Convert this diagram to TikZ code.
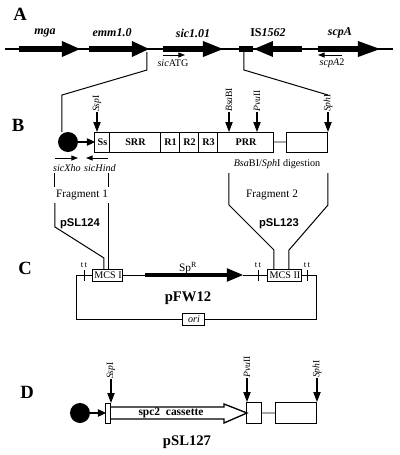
\documentclass[tikz,border=0pt]{standalone}
\usepackage{fontspec}
\setmainfont{Liberation Serif}
\newfontfamily\helv{Liberation Sans}
\usetikzlibrary{arrows.meta}
% gene arrow: body x1..x2, head x2..x3, y, body half, head half
\newcommand\genearr[6]{\fill (#1,#4-#5) rectangle (#2,#4+#5); \fill (#2,#4-#6) -- (#3,#4) -- (#2,#4+#6) -- cycle;}
% restriction site: x, tip y, arrow length, label, name
\newcommand\rsite[5]{\node[slbl, rotate=90, anchor=west] (#5) at (#1,#2-#3) {#4}; \draw[sitearr] (#1,#2-#3-1) -- (#1,#2);}
\begin{document}
\begin{tikzpicture}[x=0.75pt,y=-0.75pt,
  line width=0.75pt,
  sec/.style={inner sep=0pt, font=\fontsize{14}{14}\selectfont\bfseries},
  glbl/.style={inner sep=0pt, font=\fontsize{9}{10}\selectfont\bfseries\itshape},
  plbl/.style={inner sep=0pt, font=\fontsize{7.6}{9}\selectfont},
  slbl/.style={inner sep=0.5pt, font=\fontsize{7.2}{8}\selectfont},
  blbl/.style={inner sep=0pt, font=\fontsize{7.6}{9}\selectfont\bfseries},
  frag/.style={inner sep=0pt, font=\fontsize{8.5}{10}\selectfont},
  hlbl/.style={inner sep=0pt, font=\helv\fontsize{8.4}{10}\selectfont\bfseries},
  big/.style={inner sep=0pt, font=\fontsize{11}{12}\selectfont\bfseries},
  tlbl/.style={inner sep=0pt, font=\fontsize{6.5}{7}\selectfont},
  sarr/.style={line width=0.7pt, -{Triangle[length=5pt,width=3.8pt]}},
  sitearr/.style={line width=0.8pt, -{Triangle[length=7.5pt,width=5.5pt]}},
  carr/.style={line width=0.9pt, -{Triangle[length=6pt,width=5.5pt]}},
  conn/.style={gray!70, line width=1.1pt}]
\useasboundingbox (0,0) rectangle (400,455);

% ---------- A ----------
\node[sec] (A) at (20,14) {A};
\draw[line width=0.8pt] (5,49) -- (393,49);
\genearr{19}{62}{80}{49}{2.8}{8}
\genearr{89}{132}{149}{49}{2.8}{8}
\genearr{163}{203}{223}{49}{2.8}{8}
\fill (239,46.2) rectangle (253,51.8);
\genearr{302}{273}{254}{49}{2.8}{8}
\genearr{318}{358}{380}{49}{2.8}{8}
\node[glbl] (mga) at (45,33) {mga};
\node[glbl] (emm) at (112,33) {emm1.0};
\node[glbl] (sic) at (193,33) {sic1.01};
\node[glbl] (is) at (268,33) {{\upshape IS}1562};
\node[glbl] (scpA) at (340,33) {scpA};
\draw[sarr] (163,55) -- (185,55);
\node[plbl] (sicATG) at (173,63) {\textit{sic}ATG};
\draw[sarr] (342,55) -- (318,55);
\node[plbl] (scpA2) at (332,63) {\textit{scpA}2};
\draw (147,52) -- (147,70) -- (62,95) -- (62,132);
\draw (244,52) -- (244,70) -- (328,95);

% ---------- B ----------
\node[sec] (B) at (18,125) {B};
\fill (68,142) circle (7.5pt);
\draw[carr] (78,142) -- (95,142);
\draw (95,132) rectangle (274,152);
\foreach \x in {110,161,180,199,218} \draw (\x,132) -- (\x,152);
\node[blbl] (ss) at (102.5,142) {Ss};
\node[blbl] (srr) at (135.5,142) {SRR};
\node[blbl] (r1) at (170.5,142) {R1};
\node[blbl] (r2) at (189.5,142) {R2};
\node[blbl] (r3) at (208.5,142) {R3};
\node[blbl] (prr) at (246,142) {PRR};
\draw[conn] (274,142) -- (287,142);
\draw (287,132) rectangle (328,152);
\rsite{97}{132}{19}{\textit{Ssp}I}{sspB}
\rsite{229}{132}{19}{\textit{Bsa}BI}{bsaB}
\rsite{257}{132}{19}{\textit{Pvu}II}{pvuB}
\rsite{328}{132}{19}{\textit{Sph}I}{sphB}
\draw[sarr] (55,158) -- (78,158);
\node[plbl] (xho) at (67,168) {\textit{sicXho}};
\draw[sarr] (108,158) -- (86,158);
\node[plbl] (hind) at (100,168) {\textit{sicHind}};
\node[plbl] (dig) at (277,164) {\textit{Bsa}BI/\textit{Sph}I digestion};

% fragments
\draw (55,173) -- (55,187);
\draw (109,173) -- (109,187);
\node[frag] (f1) at (82,195) {Fragment 1};
\draw (55,203) -- (55,227) -- (104,258) -- (104,269);
\draw (109,203) -- (109,269);
\node[hlbl] (p124) at (80,224) {pSL124};
\draw (229,173) -- (229,205) -- (274,250) -- (274,269);
\draw (328,173) -- (328,205) -- (289,250) -- (289,269);
\node[frag] (f2) at (272,195) {Fragment 2};
\node[hlbl] (p123) at (279,224) {pSL123};

% ---------- C ----------
\node[sec] (C) at (25,268) {C};
\draw (93,275) -- (77,275) -- (77,319) -- (183,319);
\draw (205,319) -- (317,319) -- (317,275) -- (302,275);
\draw (123,275) -- (145,275);
\draw (243,275) -- (268,275);
\draw (93,269) rectangle (123,281);
\node[plbl] (mcs1) at (108,275) {MCS I};
\draw (268,269) rectangle (302,281);
\node[plbl] (mcs2) at (285,275) {MCS II};
\genearr{145}{227}{243}{275}{2.4}{6.8}
\node[frag] (spr) at (188,268) {Sp\textsuperscript{R}};
\foreach \x/\n in {85/t1,259/t2,308/t3} {
  \draw (\x,270) -- (\x,281);
  \node[tlbl] (\n) at (\x-1,265) {t\,t};
}
\node[big] (pfw) at (188,298) {pFW12};
\draw (183,313) rectangle (205,325);
\node[plbl] (ori) at (194,319) {\textit{ori}};

% ---------- D ----------
\node[sec] (D) at (27,392) {D};
\fill (80,413) circle (7.5pt);
\draw[carr] (90,413) -- (106,413);
\draw (106,403) rectangle (111,423);
\draw[line width=1pt] (111,407) -- (224,407) -- (224,404) -- (247,413) -- (224,423) -- (224,419) -- (111,419);
\node[blbl, font=\fontsize{8.6}{10}\selectfont\bfseries] (spc) at (171,413) {spc2\ \ cassette};
\draw (247,402) rectangle (262,423);
\draw[conn] (262,413) -- (276,413);
\draw (276,402) rectangle (317,423);
\rsite{111}{403}{23}{\textit{Ssp}I}{sspD}
\rsite{247}{402}{23}{\textit{Pvu}II}{pvuD}
\rsite{317}{402}{23}{\textit{Sph}I}{sphD}
\node[big] (p127) at (187,442) {pSL127};
\end{tikzpicture}
\end{document}
